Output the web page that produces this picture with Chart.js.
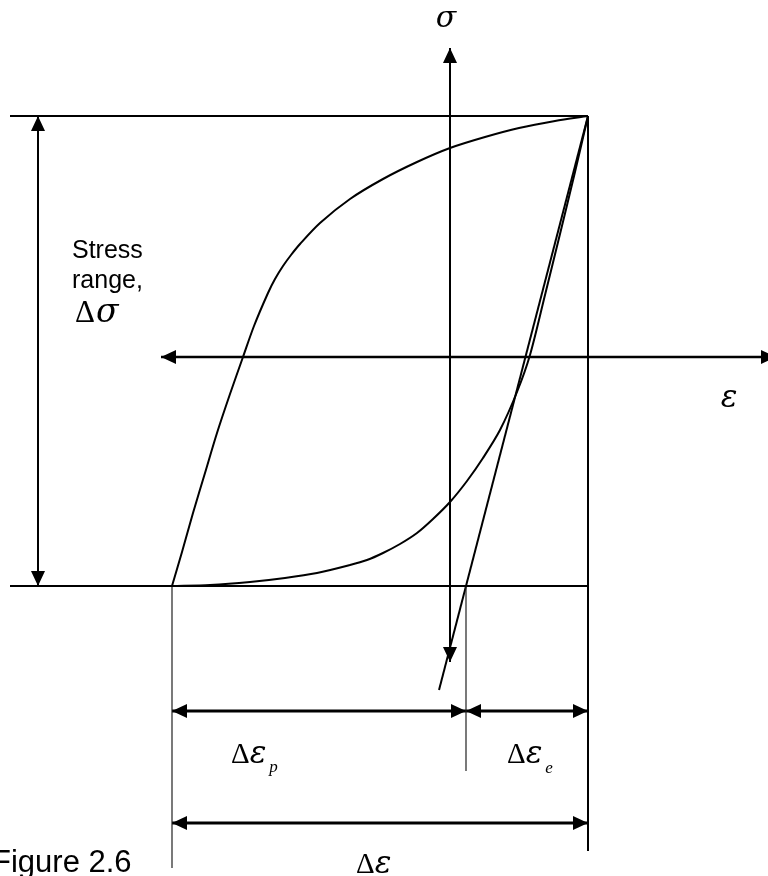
<!DOCTYPE html>
<html>
<head>
<meta charset="utf-8">
<script src="https://cdn.jsdelivr.net/npm/chart.js@4/dist/chart.umd.min.js"></script>
<style>
  html, body { margin: 0; padding: 0; background: #fff; }
  #wrap { width: 768px; height: 876px; position: relative; }
</style>
</head>
<body>
<div id="wrap"><canvas id="c"></canvas></div>
<script>
// Cyclic stress–strain hysteresis loop (schematic).
// Strain ε in %, stress σ in MPa.

// Rising branch: from the compressive peak up to the tensile peak
const upperBranchStrain = [-2.78, -2.68, -2.57, -2.45, -2.33, -2.20, -2.07, -1.96, -1.82, -1.75, -1.67, -1.59, -1.50, -1.30, -1.00, -0.67, -0.33, 0.00, 0.35, 0.69, 1.05, 1.38];
const upperBranchStress = [-229, -195, -156, -116, -76, -37, 0, 31, 64, 78, 91, 102, 113, 134, 158, 178, 195, 209, 220, 229, 236, 241];

// Falling branch: from the compressive peak (flat) to the tensile peak (steep)
const lowerBranchStrain = [-2.78, -2.40, -2.00, -1.65, -1.33, -1.00, -0.83, -0.67, -0.50, -0.33, -0.17, 0.00, 0.17, 0.33, 0.50, 0.67, 0.80, 0.95, 1.10, 1.25, 1.38];
const lowerBranchStress = [-229, -228, -225, -221, -216, -208, -203, -196, -187, -176, -162, -145, -124, -101, -73, -35, 2, 62, 123, 185, 241];

// Elastic unloading line from the tensile peak
const elasticStrain = [1.38, -0.11];
const elasticStress = [241, -333];

// Peaks and the split of the strain range
const strainMin = -2.78;     // left tip of the loop
const strainMax = 1.38;      // right tip of the loop
const strainSplit = 0.16;    // boundary between Δε_p and Δε_e
const stressMin = -229;
const stressMax = 241;

// ---- drawing layout (ε / σ units) ----
const view = { xMin: -4.5, xMax: 3.18, yMin: -519, yMax: 357 };
const sigmaAxis = { eps: 0, from: -305, to: 309 };
const epsAxis = { sig: 0, from: -2.89, to: 3.26 };
const guideStart = -4.40;
const rangeArrowEps = -4.12;
const rowPartial = -354, rowTotal = -466;
const leftGuideEnd = -511, splitGuideEnd = -414, rightGuideEnd = -494;

const serif = '"Liberation Serif", "Times New Roman", serif';
const greek = '"DejaVu Serif", serif';
const sans = '"Liberation Sans", Arial, sans-serif';

function seg(xs, ys, width, extra) {
  return Object.assign({
    data: xs.map((x, i) => ({ x: x, y: ys[i] })),
    showLine: true, fill: false, pointRadius: 0, pointHoverRadius: 0,
    borderColor: '#000', borderWidth: width, tension: 0
  }, extra || {});
}

const datasets = [
  // frame lines at the peak stresses
  seg([guideStart, strainMax], [stressMax, stressMax], 2),
  seg([guideStart, strainMax], [stressMin, stressMin], 2),
  // extension lines
  seg([strainMax, strainMax], [stressMax, rightGuideEnd], 2),
  seg([strainMin, strainMin], [stressMin, leftGuideEnd], 1.2, { borderColor: '#222' }),
  seg([strainSplit, strainSplit], [stressMin, splitGuideEnd], 1.2, { borderColor: '#222' }),
  // coordinate axes
  seg([sigmaAxis.eps, sigmaAxis.eps], [sigmaAxis.from, sigmaAxis.to], 2, { arrows: ['start', 'end'] }),
  seg([epsAxis.from, epsAxis.to], [epsAxis.sig, epsAxis.sig], 2.5, { arrows: ['start', 'end'] }),
  // stress range
  seg([rangeArrowEps, rangeArrowEps], [stressMax, stressMin], 2, { arrows: ['start', 'end'] }),
  // strain ranges
  seg([strainMin, strainSplit], [rowPartial, rowPartial], 3, { arrows: ['start', 'end'] }),
  seg([strainSplit, strainMax], [rowPartial, rowPartial], 3, { arrows: ['start', 'end'] }),
  seg([strainMin, strainMax], [rowTotal, rowTotal], 3, { arrows: ['start', 'end'] }),
  // loop
  seg(upperBranchStrain, upperBranchStress, 2, { tension: 0.3 }),
  seg(lowerBranchStrain, lowerBranchStress, 2, { tension: 0.3 }),
  seg(elasticStrain, elasticStress, 2)
];

// Filled arrowheads at the ends of flagged lines
const arrowPlugin = {
  id: 'arrowheads',
  afterDatasetsDraw(chart) {
    const ctx = chart.ctx;
    chart.data.datasets.forEach((ds, i) => {
      if (!ds.arrows) return;
      const pts = chart.getDatasetMeta(i).data;
      ds.arrows.forEach(end => {
        const tip = end === 'end' ? pts[pts.length - 1] : pts[0];
        const prev = end === 'end' ? pts[pts.length - 2] : pts[1];
        const a = Math.atan2(tip.y - prev.y, tip.x - prev.x);
        const len = 15, half = 7;
        ctx.save();
        ctx.translate(tip.x, tip.y);
        ctx.rotate(a);
        ctx.beginPath();
        ctx.moveTo(0, 0);
        ctx.lineTo(-len, -half);
        ctx.lineTo(-len, half);
        ctx.closePath();
        ctx.fillStyle = '#000';
        ctx.fill();
        ctx.restore();
      });
    });
  }
};

// Labels: runs of text placed at (ε, σ), baseline-aligned
const labels = [
  { eps: -0.04, sig: 330, align: 'center', runs: [{ t: 'σ', f: 'italic 30px ' + greek }] },
  { eps: 2.79, sig: -50, align: 'center', runs: [{ t: 'ε', f: 'italic 31px ' + greek }] },
  { eps: -3.78, sig: 99, runs: [{ t: 'Stress', f: '25px ' + sans }] },
  { eps: -3.78, sig: 69, runs: [{ t: 'range,', f: '25px ' + sans }] },
  { eps: -3.75, sig: 35, runs: [{ t: 'Δ', f: '31px ' + serif }, { t: 'σ', f: 'italic 33px ' + greek, dx: 1 }] },
  { eps: -2.19, sig: -406, runs: [{ t: 'Δ', f: '29px ' + serif }, { t: 'ε', f: 'italic 31px ' + greek }, { t: 'p', f: 'italic 17px ' + serif, dy: 9, dx: 3 }] },
  { eps: 0.57, sig: -406, runs: [{ t: 'Δ', f: '29px ' + serif }, { t: 'ε', f: 'italic 31px ' + greek }, { t: 'e', f: 'italic 17px ' + serif, dy: 10, dx: 3 }] },
  { eps: -0.94, sig: -516, runs: [{ t: 'Δ', f: '29px ' + serif }, { t: 'ε', f: 'italic 31px ' + greek }] },
  { eps: -4.58, sig: -515, runs: [{ t: 'Figure 2.6', f: '31px ' + sans }] }
];

const labelPlugin = {
  id: 'labels',
  afterDatasetsDraw(chart) {
    const ctx = chart.ctx, xs = chart.scales.x, ys = chart.scales.y;
    ctx.save();
    ctx.fillStyle = '#000';
    ctx.textBaseline = 'alphabetic';
    ctx.textAlign = 'left';
    labels.forEach(l => {
      let total = 0;
      l.runs.forEach(r => { ctx.font = r.f; total += ctx.measureText(r.t).width + (r.dx || 0); });
      let x = xs.getPixelForValue(l.eps);
      const y = ys.getPixelForValue(l.sig);
      if (l.align === 'center') x -= total / 2;
      l.runs.forEach(r => {
        ctx.font = r.f;
        x += (r.dx || 0);
        ctx.fillText(r.t, x, y + (r.dy || 0));
        x += ctx.measureText(r.t).width;
      });
    });
    ctx.restore();
  }
};

new Chart(document.getElementById('c'), {
  type: 'scatter',
  data: { datasets: datasets },
  options: {
    responsive: true,
    maintainAspectRatio: false,
    animation: false,
    layout: { padding: 0 },
    plugins: { legend: { display: false }, tooltip: { enabled: false } },
    events: [],
    scales: {
      x: { type: 'linear', min: view.xMin, max: view.xMax, display: false },
      y: { type: 'linear', min: view.yMin, max: view.yMax, display: false }
    }
  },
  plugins: [arrowPlugin, labelPlugin]
});
</script>
</body>
</html>
